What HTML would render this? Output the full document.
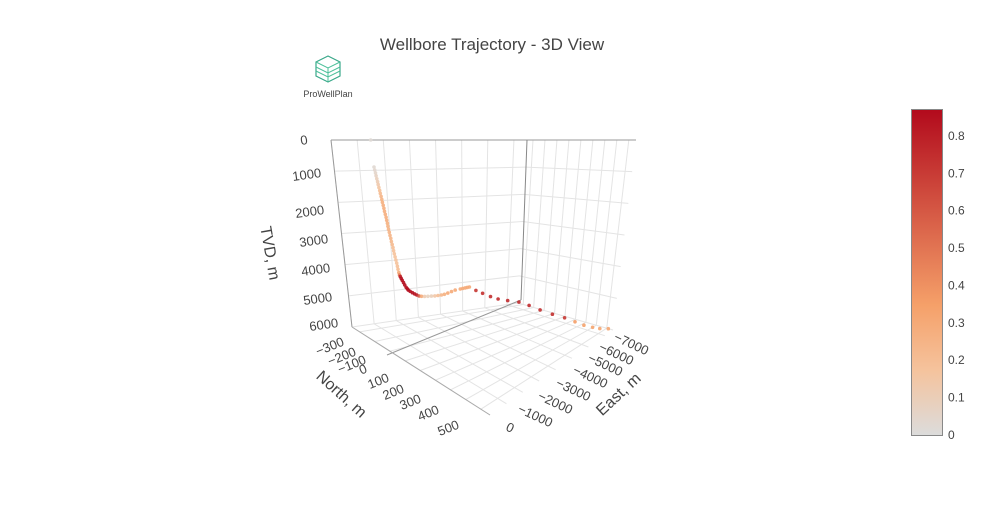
<!DOCTYPE html>
<html><head><meta charset="utf-8"><style>
body{margin:0;background:#fff;font-family:"Liberation Sans",sans-serif;}
svg text{font-family:"Liberation Sans","DejaVu Sans",sans-serif;fill:#444;}
</style></head><body>
<svg id="chart" width="985" height="525" viewBox="0 0 985 525" xmlns="http://www.w3.org/2000/svg">
<defs><linearGradient id="cg" x1="0" y1="1" x2="0" y2="0">
<stop offset="0" stop-color="rgb(220,220,220)"/><stop offset="0.2" stop-color="rgb(245,195,157)"/><stop offset="0.4" stop-color="rgb(245,160,105)"/><stop offset="1" stop-color="rgb(178,10,28)"/></linearGradient></defs>
<text x="492" y="50" font-size="17" text-anchor="middle">Wellbore Trajectory - 3D View</text>
<g>
<path d="M328 56 L340 62 L340 76 L328 82 L316 76 L316 62 Z" fill="none" stroke="#3aa88a" stroke-width="1.2"/>
<path d="M316 62 L328 68 L340 62 M328 68 L328 82 M316 67 L328 73 L340 67 M316 71 L328 77 L340 71" fill="none" stroke="#4cc09a" stroke-width="1"/>
<text x="328" y="97" font-size="9" text-anchor="middle">ProWellPlan</text></g>
<g id="grid"></g>
<g id="axes">
<line x1="331" y1="140" x2="636" y2="140" stroke="#999" stroke-width="1"/>
<line x1="331" y1="140" x2="352" y2="327" stroke="#999" stroke-width="1"/>
<line x1="527" y1="140" x2="521" y2="300" stroke="#888" stroke-width="1"/>
<line x1="387" y1="355" x2="521" y2="300" stroke="#999" stroke-width="1"/>
<line x1="352" y1="327" x2="490" y2="415" stroke="#aaa" stroke-width="1"/>
</g>
<g id="points"></g>
<g id="ticks" font-size="13"></g>
<text x="0" y="0" font-size="16" transform="translate(265,254) rotate(80)" text-anchor="middle">TVD, m</text>
<text x="0" y="0" font-size="16" transform="translate(338,398) rotate(42)" text-anchor="middle">North, m</text>
<text x="0" y="0" font-size="16" transform="translate(622,398) rotate(-43)" text-anchor="middle">East, m</text>
<g>
<rect x="911.5" y="109.5" width="31" height="326" fill="url(#cg)" stroke="#888" stroke-width="1"/>
<g id="cbticks" font-size="12"></g></g>
</svg>
<script>
const northVals=[-70,-68,-65,-62,-60,-57,-54,-52,-49,-46,-44,-41,-38,-36,-33,-30,-28,-25,-22,-20,-17,-16,-14,-11,-8,-5,-3,0,3,5,8,11,14,17,20,22,25,28,32,37,43,50,57,65,72,78,90,105,120,135,150,158,166,173,180,186,191,196,200,205,210,215,222,225,228,230,232,236,239,243,246,250,255,270,290,315,342,380,415,450,480,515];
const eastVals=[0,0,0,0,0,0,0,0,0,0,0,0,0,0,0,0,0,0,0,0,0,0,0,0,0,0,0,0,0,0,0,0,0,0,0,0,0,0,0,0,0,0,0,0,0,0,0,0,0,0,0,-60,-150,-260,-380,-500,-620,-750,-870,-1000,-1150,-1300,-1500,-1600,-1700,-1790,-1875,-2150,-2450,-2800,-3150,-3600,-4125,-4550,-5000,-5500,-6000,-6350,-6650,-6950,-7200,-7500];
const tvdVals=[0,756,840,920,1000,1080,1160,1240,1320,1400,1480,1560,1640,1720,1800,1880,1960,2040,2120,2200,2280,2360,2440,2520,2600,2680,2760,2840,2920,3000,3080,3160,3240,3320,3400,3480,3560,3624,3660,3700,3740,3790,3840,3890,3920,3942,3955,3965,3972,3976,3978,3980,3981,3982,3982,3982,3981,3980,3970,3950,3925,3900,3890,3885,3880,3878,3876,4000,4120,4260,4380,4500,4630,4790,4990,5200,5400,5570,5720,5840,5930,6000];
const dlsVals=[0.02,0.03,0.04,0.05,0.07,0.09,0.11,0.13,0.16,0.19,0.22,0.25,0.26,0.27,0.28,0.28,0.28,0.28,0.28,0.28,0.27,0.26,0.25,0.25,0.25,0.24,0.23,0.22,0.2,0.19,0.18,0.18,0.18,0.18,0.19,0.21,0.3,0.5,0.8,0.85,0.86,0.86,0.86,0.86,0.86,0.86,0.86,0.86,0.85,0.82,0.6,0.3,0.12,0.08,0.1,0.15,0.2,0.24,0.27,0.3,0.3,0.3,0.3,0.3,0.3,0.3,0.3,0.72,0.74,0.75,0.76,0.76,0.76,0.76,0.75,0.74,0.72,0.36,0.34,0.33,0.32,0.32];
const tvdTicks=[0,1000,2000,3000,4000,5000,6000];
const northTicks=[-300,-200,-100,0,100,200,300,400,500];
const eastTicks=[0,-1000,-2000,-3000,-4000,-5000,-6000,-7000];
const cbTicks=[0,0.1,0.2,0.3,0.4,0.5,0.6,0.7,0.8];
const N0=-350,N1=560,E1=-7500,T1=6000,CMAX=0.872;
const C={L:[331,140],F:[460,140],B:[527,140],R:[636,140]};
const Fl={L:[352,327],F:[490,415],B:[518,303],R:[613,330]};
function bil(P,u,v,i){return P.L[i]*(1-u)*(1-v)+P.F[i]*u*(1-v)+P.B[i]*(1-u)*v+P.R[i]*u*v;}
function proj(n,e,t){const u=(n-N0)/(N1-N0),v=e/E1,w=t/T1;
return [bil(C,u,v,0)*(1-w)+bil(Fl,u,v,0)*w, bil(C,u,v,1)*(1-w)+bil(Fl,u,v,1)*w];}
function color(d){const s=[[0,[220,220,220]],[0.2,[245,195,157]],[0.4,[245,160,105]],[1,[178,10,28]]];
let x=Math.min(1,Math.max(0,d/CMAX));for(let i=1;i<s.length;i++){if(x<=s[i][0]){const f=(x-s[i-1][0])/(s[i][0]-s[i-1][0]);
const c=s[i-1][1].map((a,k)=>Math.round(a+(s[i][1][k]-a)*f));return `rgb(${c})`;}}return 'rgb(178,10,28)';}
const NS='http://www.w3.org/2000/svg';
function mk(tag,attrs,parent){const el=document.createElementNS(NS,tag);for(const k in attrs)el.setAttribute(k,attrs[k]);parent.appendChild(el);return el;}
const grid=document.getElementById('grid');
function gl(a,b){const el=mk('line',{x1:a[0],y1:a[1],x2:b[0],y2:b[1],stroke:'#e4e4e4','stroke-width':1},grid);

}
tvdTicks.forEach(t=>{gl(proj(N0,0,t),proj(N0,E1,t));gl(proj(N0,E1,t),proj(N1,E1,t));});
northTicks.forEach(n=>{gl(proj(n,0,T1),proj(n,E1,T1));gl(proj(n,E1,0),proj(n,E1,T1));});
eastTicks.forEach(e=>{gl(proj(N0,e,T1),proj(N1,e,T1));gl(proj(N0,e,0),proj(N0,e,T1));});
const pts=document.getElementById('points');
northVals.forEach((n,i)=>{const p=proj(n,eastVals[i],tvdVals[i]);
const c=mk('circle',{cx:p[0].toFixed(1),cy:p[1].toFixed(1),r:1.8,fill:color(dlsVals[i]),'fill-opacity':0.9},pts);

});
const tk=document.getElementById('ticks');
const tvdPos=[[301,145],[293,181],[296,218],[300,247],[302,276],[304,305],[310,331]];
tvdTicks.forEach((t,i)=>{const el=mk('text',{x:tvdPos[i][0],y:tvdPos[i][1],transform:`rotate(-8 ${tvdPos[i][0]} ${tvdPos[i][1]})`},tk);el.textContent=String(t);

});
const northPos=[[345,345],[357,355],[367,363],[368,372],[390,381],[405,392],[422,402],[440,413],[460,428]];
northTicks.forEach((n,i)=>{const x=northPos[i][0],y=northPos[i][1];
const el=mk('text',{x:x,y:y,'text-anchor':'end',transform:`rotate(-22 ${x} ${y})`},tk);el.textContent=String(n).replace('-','\u2212');

});
const eastPos=[[505,430],[517,412],[537,399],[555,386],[572,373],[587,361],[598,350],[613,340]];
eastTicks.forEach((e,i)=>{const x=eastPos[i][0],y=eastPos[i][1];
const el=mk('text',{x:x,y:y,transform:`rotate(25 ${x} ${y})`},tk);el.textContent=String(e).replace('-','\u2212');

});
const cb=document.getElementById('cbticks');
cbTicks.forEach(v=>{const y=435-v/CMAX*326;const el=mk('text',{x:948,y:y+4},cb);el.textContent=String(v);

});
</script>
</body></html>
